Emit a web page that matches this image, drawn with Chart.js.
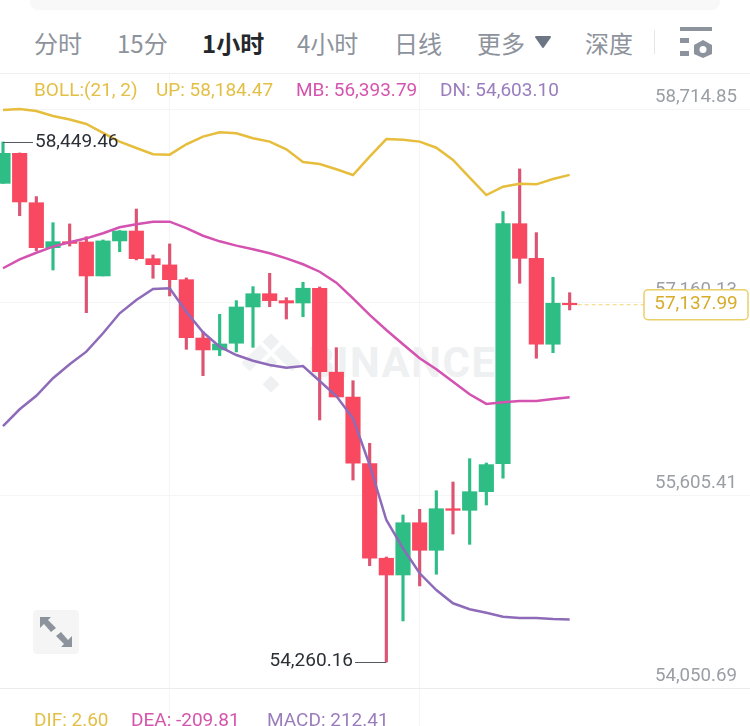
<!DOCTYPE html>
<html>
<head>
<meta charset="utf-8">
<script src="https://cdn.jsdelivr.net/npm/chart.js@4"></script>
<style>
  html, body { margin: 0; padding: 0; background: #fff; }
  #page { position: relative; width: 750px; height: 726px; overflow: hidden; font-family: Roboto, sans-serif; }
  #myKlineChart { position: absolute; left: 0; top: 0; }
  .topBar { position: absolute; left: 30px; top: -10px; width: 690px; height: 20px; background: #f8f8f8; border-radius: 8px; }
  .tab { position: absolute; top: 26px; line-height: 34px; font-size: 24px; color: #8d939c; white-space: nowrap; font-family: "Noto Sans CJK SC", sans-serif; }
  .tab.active { color: #24272c; font-weight: 700; }
  .lbl { position: absolute; font-size: 19px; line-height: 22px; white-space: nowrap; }
  .yellow { color: #e3bf45; }
  .pink { color: #d555ae; }
  .purple { color: #9a7dbd; }
  .rule { position: absolute; left: 0; top: 73px; width: 750px; height: 1px; background: #efefef; }
  .mark { position: absolute; left: 308px; top: 340px; font-size: 42px; line-height: 46px; font-weight: 700; color: #eff0f1; letter-spacing: 1.5px; }
  svg { position: absolute; }
</style>
</head>
<body>
<div id="page">
  <div class="topBar"></div>
  <div class="tab" style="left:34px">分时</div>
  <div class="tab" style="left:117px">15分</div>
  <div class="tab active" style="left:202px">1小时</div>
  <div class="tab" style="left:297px">4小时</div>
  <div class="tab" style="left:394px">日线</div>
  <div class="tab" style="left:477px">更多</div>
  <div class="tab" style="left:585px">深度</div>
  <svg style="left:530px;top:32px" width="26" height="20"><path d="M6 5 H20 L13 15 Z" fill="#6d7685" stroke="#6d7685" stroke-width="2" stroke-linejoin="round"/></svg>
  <svg style="left:650px;top:24px" width="70" height="38">
    <rect x="4" y="6" width="1" height="24" fill="#e6e6e6"/>
    <rect x="30" y="3" width="32" height="4" fill="#8d939c"/>
    <rect x="30" y="14" width="9" height="5" fill="#8d939c"/>
    <rect x="30" y="27" width="9" height="5" fill="#8d939c"/>
    <path d="M53 16 L62 21 V30 L53 34 L44 30 V21 Z" fill="#8d939c"/>
    <circle cx="53" cy="25.5" r="3.5" fill="#fff"/>
  </svg>
  <div class="rule"></div>

  <svg style="left:242px;top:334px" width="58" height="58">
    <g fill="#eff0f1" transform="rotate(45 29 29)">
      <rect x="8" y="8" width="12" height="12"/>
      <rect x="24" y="24" width="9" height="9"/>
      <rect x="38" y="38" width="12" height="12"/>
      <rect x="8" y="24" width="12" height="26" opacity="0.85"/>
      <rect x="24" y="8" width="26" height="12" opacity="0.85"/>
    </g>
  </svg>
  <div class="mark">BINANCE</div>

  <canvas id="myKlineChart" width="750" height="726"></canvas>

  <div class="lbl yellow" style="left:34px;top:79px">BOLL:(21, 2)</div>
  <div class="lbl yellow" style="left:156px;top:79px">UP: 58,184.47</div>
  <div class="lbl pink" style="left:296px;top:79px">MB: 56,393.79</div>
  <div class="lbl purple" style="left:440px;top:79px">DN: 54,603.10</div>

  <svg style="left:33px;top:610px" width="46" height="44">
    <rect width="46" height="44" rx="4" fill="#f5f5f5"/>
    <path d="M7 7 H18 L15 10 L23 18 L18 22 L11 14 L7 18 Z" fill="#8d939c"/>
    <path d="M39 37 H28 L31 34 L23 26 L28 22 L35 30 L39 26 Z" fill="#8d939c"/>
  </svg>

  <div class="lbl yellow" style="left:34px;top:709px">DIF: 2.60</div>
  <div class="lbl pink" style="left:131px;top:709px">DEA: -209.81</div>
  <div class="lbl purple" style="left:267px;top:709px">MACD: 212.41</div>
</div>

<script>
// 1h candles
const candleIndex = [0,1,2,3,4,5,6,7,8,9,10,11,12,13,14,15,16,17,18,19,20,21,22,23,24,25,26,27,28,29,30,31,32,33,34];
const opens = [58116,58358,57960,57598,57646,57644,57370,57652,57732,57509,57459,57340,56870,56774,56828,57120,57227,57171,57152,57271,56595,56395,55858,55096,54961,55382,55160,55495,55482,55632,55858,57791,57512,56820,57150];
const highs = [58449.46,58361,58009,57799,57789,57686,57660,57736,57909,57539,57628,57354,56921,57061,57171,57284,57391,57195,57319,57281,56792,56526,56022,55106,55444,55490,55640,55710,55898,55863,57888,58232,57719,57359,57235];
const lows = [58116,57855,57574,57418,57611,57074,57370,57565,57499,57351,57209,56779,56567,56728,56758,56795,57122,57023,57042,56210,56395,55726,55036,54260.16,54591,54873,54967,55291,55208,55525,55740,57311,56707,56752,57096];
const closes = [58358,57966,57598,57646,57632,57370,57652,57732,57509,57461,57340,56873,56774,56822,57120,57227,57171,57152,57271,56599,56395,55861,55096,54961,55382,55160,55495,55482,55632,55850,57791,57512,56820,57150,57137.99];

// BOLL(21, 2)
const upBand = [58707,58715,58699,58659,58630,58594,58522,58452,58401,58350,58347,58431,58492,58527,58519,58479,58452,58390,58288,58272,58229,58183,58331,58473,58468,58452,58403,58304,58162,58022,58089,58113,58108,58151,58184.47];
const midBand = [57432,57504,57557,57606,57641,57673,57714,57762,57786,57807,57807,57756,57694,57649,57614,57585,57553,57512,57464,57404,57316,57190,57056,56935,56820,56707,56618,56518,56417,56339,56352,56363,56363,56379,56393.79];
const lowBand = [56161,56296,56405,56546,56658,56760,56908,57069,57176,57265,57271,57082,56916,56800,56733,56687,56653,56631,56645,56524,56403,56223,55847,55404,55176,54975,54840,54733,54685,54657,54625,54615,54615,54607,54603.10];

const priceTicks = [58714.85, 57160.13, 55605.41, 54050.69];
const timeTicks = [10, 25];
const lastPrice = 57137.99;

const upColor = '#2ebd85';
const downColor = '#f84960';
const downWick = '#dc5472';
const fmt = v => v.toLocaleString('en-US', { minimumFractionDigits: 2, maximumFractionDigits: 2 });

const bodyColors = candleIndex.map(i => closes[i] >= opens[i] ? upColor : downColor);
const wickColors = candleIndex.map(i => closes[i] >= opens[i] ? upColor : downWick);

// high / low call-outs and the last price tag
const annotations = {
    id: 'annotations',
    afterDatasetsDraw(chart) {
        const { ctx, scales: { x, y } } = chart;
        ctx.save();
        ctx.font = '19px Roboto, sans-serif';
        ctx.textBaseline = 'middle';

        const hi = Math.max(...highs), hiI = highs.indexOf(hi);
        const lo = Math.min(...lows), loI = lows.indexOf(lo);
        const hiY = Math.round(y.getPixelForValue(hi)) + 0.5;
        const loY = Math.round(y.getPixelForValue(lo)) + 0.5;
        ctx.strokeStyle = '#555b63';
        ctx.lineWidth = 1;
        ctx.fillStyle = '#2b2f36';

        ctx.beginPath();
        ctx.moveTo(x.getPixelForValue(hiI), hiY);
        ctx.lineTo(33, hiY);
        ctx.stroke();
        ctx.textAlign = 'left';
        ctx.fillText(fmt(hi), 35, hiY);

        ctx.beginPath();
        ctx.moveTo(x.getPixelForValue(loI), loY);
        ctx.lineTo(355, loY);
        ctx.stroke();
        ctx.textAlign = 'right';
        ctx.fillText(fmt(lo), 353, loY - 1);

        // dashed line to the price box
        const py = y.getPixelForValue(lastPrice);
        ctx.strokeStyle = '#f2d675';
        ctx.setLineDash([4, 3]);
        ctx.beginPath();
        ctx.moveTo(x.getPixelForValue(candleIndex.length - 1) + 8, py);
        ctx.lineTo(644, py);
        ctx.stroke();
        ctx.setLineDash([]);

        ctx.beginPath();
        ctx.roundRect(644, py - 15, 104, 30, 4);
        ctx.fillStyle = '#fff';
        ctx.fill();
        ctx.strokeStyle = '#e9cf68';
        ctx.lineWidth = 1.5;
        ctx.stroke();
        ctx.fillStyle = '#d6ac2c';
        ctx.textAlign = 'center';
        ctx.fillText(fmt(lastPrice), 696, py);
        ctx.restore();
    }
};

const klineConfig = {
    data: {
        labels: candleIndex,
        datasets: [
            { type: 'line', label: 'UP', data: upBand, borderColor: '#e6bd3c', borderWidth: 2.5, pointRadius: 0, tension: 0, order: 1 },
            { type: 'line', label: 'MB', data: midBand, borderColor: '#d452b0', borderWidth: 2.5, pointRadius: 0, tension: 0, order: 1 },
            { type: 'line', label: 'DN', data: lowBand, borderColor: '#8e6bb8', borderWidth: 2.5, pointRadius: 0, tension: 0, order: 1 },
            {
                type: 'bar', label: 'body',
                data: candleIndex.map(i => [opens[i], closes[i]]),
                backgroundColor: bodyColors, barThickness: 14.5, grouped: false, order: 2
            },
            {
                type: 'bar', label: 'wick',
                data: candleIndex.map(i => [lows[i], highs[i]]),
                backgroundColor: wickColors, barThickness: 2.5, grouped: false, order: 3
            }
        ]
    },
    options: {
        responsive: false,
        animation: false,
        layout: { padding: { top: 74 } },
        plugins: { legend: { display: false }, tooltip: { enabled: false } },
        scales: {
            x: {
                type: 'linear',
                offset: false,
                min: -0.18,
                max: 44.82,
                afterBuildTicks: axis => { axis.ticks = timeTicks.map(value => ({ value })); },
                afterFit: axis => { axis.height = 0; axis.paddingLeft = 0; axis.paddingRight = 0; },
                ticks: { display: false },
                border: { display: false },
                grid: { color: '#f5f5f5', drawTicks: false, offset: false }
            },
            y: {
                position: 'right',
                min: 53744.6,
                max: 58996.8,
                afterBuildTicks: axis => { axis.ticks = priceTicks.map(value => ({ value })); },
                afterFit: axis => { axis.width = 0; axis.paddingTop = 0; axis.paddingBottom = 0; },
                ticks: {
                    mirror: true,
                    padding: -13,
                    color: '#9a9fa6',
                    font: { family: 'Roboto, sans-serif', size: 18.7, lineHeight: '23px' },
                    callback: value => [fmt(value), '']
                },
                border: { display: false },
                grid: {
                    drawTicks: false,
                    color: ctx => ctx.tick && ctx.tick.value === priceTicks[3] ? '#ececec' : '#f5f5f5'
                }
            }
        }
    },
    plugins: [annotations]
};

const myKlineChart = new Chart(document.getElementById('myKlineChart'), klineConfig);
</script>
</body>
</html>
